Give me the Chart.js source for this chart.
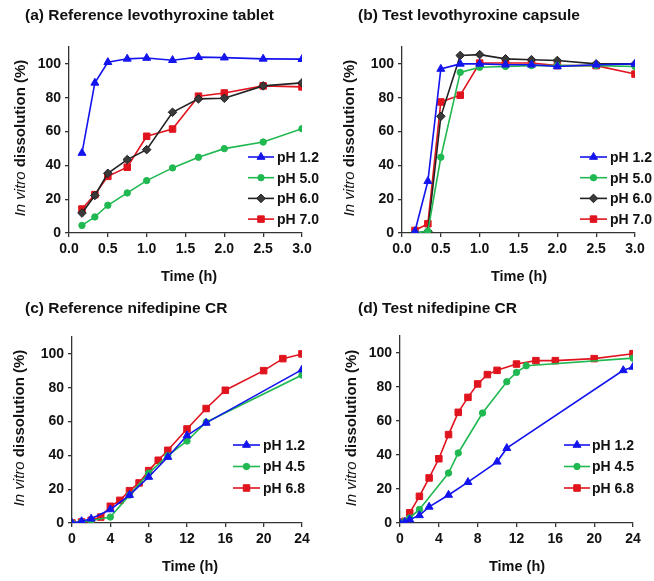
<!DOCTYPE html>
<html><head><meta charset="utf-8">
<script src="https://cdn.jsdelivr.net/npm/chart.js@4.4.0/dist/chart.umd.min.js"></script>
<style>
html,body{margin:0;padding:0;background:#fff;width:654px;height:581px;overflow:hidden;}
canvas{position:absolute;}
</style></head><body>
<canvas id="ca" width="327" height="290" style="left:0;top:0;width:327px;height:290px"></canvas>
<canvas id="cb" width="327" height="290" style="left:327px;top:0;width:327px;height:290px"></canvas>
<canvas id="cc" width="327" height="291" style="left:0;top:290px;width:327px;height:291px"></canvas>
<canvas id="cd" width="327" height="291" style="left:327px;top:290px;width:327px;height:291px"></canvas>
<script>
// ---------- data ----------
const levoTime = [0.167, 0.333, 0.5, 0.75, 1.0, 1.333, 1.667, 2.0, 2.5, 3.0];
const refLevo_pH12 = [47.3, 88.8, 101, 103, 103.5, 102.2, 104, 103.7, 103, 102.8];
const refLevo_pH50 = [4.5, 9.5, 16.4, 23.7, 31, 38.5, 44.8, 49.9, 53.8, 61.7];
const refLevo_pH60 = [11.8, 22.2, 35.3, 43.4, 49.3, 71.4, 79.3, 79.7, 87, 88.8];
const refLevo_pH70 = [14.2, 22.7, 33.5, 38.9, 57.2, 61.5, 80.9, 82.8, 87, 86.4];

const testLevo_pH12 = [1, 30.6, 97, 100, 100, 99.5, 99.5, 98.5, 99.5, 100];
const testLevo_pH50 = [0, 1, 44.8, 95, 98, 98.5, 99, 99, 99, 98.5];
const testLevo_pH60 = [0, 1, 69, 105, 105.5, 103, 102.5, 102, 100, 100];
const testLevo_pH70 = [1.5, 5.5, 77.5, 81.5, 100.5, 100.5, 100.5, 99, 99, 94];

const refNif_time_pH12 = [0, 1, 2, 4, 6, 8, 10, 12, 14, 24];
const refNif_pH12 = [0, 1, 2.5, 8, 16.5, 27.2, 39, 51.7, 59.2, 90.7];
const refNif_time_pH45 = [0, 1, 2, 4, 6, 8, 10, 12, 14, 24];
const refNif_pH45 = [0, 0.5, 1.5, 3.5, 16.5, 29.5, 39.8, 48.5, 59.6, 87.5];
const refNif_time_pH68 = [0, 1, 2, 3, 4, 5, 6, 7, 8, 9, 10, 12, 14, 16, 20, 22, 24];
const refNif_pH68 = [0, 0.6, 1.6, 3.5, 9.9, 13.4, 19.1, 23.7, 31, 37.1, 43, 55.6, 67.7, 78.5, 90.1, 97.2, 100];

const testNif_time_pH12 = [0, 0.5, 1, 2, 3, 5, 7, 10, 11, 23, 24];
const testNif_pH12 = [0, 0.5, 2, 4.5, 9.5, 16.5, 24, 36, 44, 89.8, 91.8];
const testNif_time_pH45 = [0, 0.5, 1, 2, 5, 6, 8.5, 11, 12, 13, 24];
const testNif_pH45 = [0, 1, 3, 8, 29.4, 41.2, 64.7, 83.1, 88.6, 92.5, 97];
const testNif_time_pH68 = [0, 0.5, 1, 2, 3, 4, 5, 6, 7, 8, 9, 10, 12, 14, 16, 20, 24];
const testNif_pH68 = [0, 1, 6, 15.7, 26.5, 37.8, 52, 65.1, 73.9, 81.8, 87.3, 89.8, 93.5, 95.5, 95.5, 96.7, 99.6];

const levoTicksX = [0, 0.5, 1.0, 1.5, 2.0, 2.5, 3.0];
const nifTicksX = [0, 4, 8, 12, 16, 20, 24];
const dissTicksY = [0, 20, 40, 60, 80, 100];

const levoLabels = ['pH 1.2', 'pH 5.0', 'pH 6.0', 'pH 7.0'];
const nifLabels = ['pH 1.2', 'pH 4.5', 'pH 6.8'];

// ---------- styles ----------
const FONT = "'Liberation Sans', Arial, Helvetica, sans-serif";
const TXT = '#111111';
const AX = '#333333';
const STY = {
  blue:  {color: '#1414ee', fill: '#1414ee', point: 'triangle', r: 4.6},
  green: {color: '#20b850', fill: '#20b850', point: 'circle', r: 3.2},
  black: {color: '#222222', fill: '#3a3a3a', point: 'rectRot', r: 4.3},
  red:   {color: '#e0141e', fill: '#e0141e', point: 'rect', r: 4.6}
};

function pts(xs, ys) { return xs.map((x, i) => ({x: x, y: ys[i]})); }

function ds(label, xs, ys, st) {
  return {
    label: label, data: pts(xs, ys),
    borderColor: st.color, backgroundColor: st.fill,
    borderWidth: 1.6, pointStyle: st.point, pointRadius: st.r,
    pointBackgroundColor: st.fill, pointBorderColor: st.color, pointBorderWidth: 1,
    tension: 0, fill: false, _st: st
  };
}

function drawMarker(ctx, st, x, y) {
  const r = st.r;
  ctx.save();
  ctx.fillStyle = st.fill; ctx.strokeStyle = st.color; ctx.lineWidth = 1;
  ctx.beginPath();
  if (st.point === 'circle') {
    ctx.arc(x, y, r, 0, Math.PI * 2);
  } else if (st.point === 'triangle') {
    const w = r * Math.sin(2 * Math.PI / 3);
    ctx.moveTo(x, y - r);
    ctx.lineTo(x + w, y + r / 2);
    ctx.lineTo(x - w, y + r / 2);
    ctx.closePath();
  } else if (st.point === 'rectRot') {
    ctx.moveTo(x - r, y); ctx.lineTo(x, y - r); ctx.lineTo(x + r, y); ctx.lineTo(x, y + r); ctx.closePath();
  } else {
    const s = r * Math.SQRT1_2;
    ctx.rect(x - s, y - s, 2 * s, 2 * s);
  }
  ctx.fill(); ctx.stroke();
  ctx.restore();
}

function makeChart(id, cfg) {
  const cv = document.getElementById(id);
  const W = cv.width, H = cv.height, A = cfg.area;
  const tickFont = {family: FONT, size: 14, weight: 'bold'};
  const deco = {
    id: 'deco' + id,
    afterDraw(chart) {
      const ctx = chart.ctx;
      ctx.save();
      ctx.fillStyle = TXT;
      // panel title
      ctx.font = 'bold 15.5px ' + FONT;
      ctx.textAlign = 'left'; ctx.textBaseline = 'middle';
      ctx.fillText(cfg.title.text, cfg.title.x, cfg.title.y);
      // x title
      ctx.font = 'bold 14.5px ' + FONT;
      ctx.textAlign = 'center';
      ctx.fillText('Time (h)', cfg.xTitle.x, cfg.xTitle.y);
      // y title
      ctx.save();
      ctx.translate(cfg.yTitle.x, cfg.yTitle.y);
      ctx.rotate(-Math.PI / 2);
      const f1 = 'italic 15px ' + FONT, f2 = 'bold 15px ' + FONT;
      const t1 = 'In vitro ', t2 = 'dissolution (%)';
      ctx.font = f1; const w1 = ctx.measureText(t1).width;
      ctx.font = f2; const w2 = ctx.measureText(t2).width;
      ctx.textAlign = 'left';
      let sx = -(w1 + w2) / 2;
      ctx.font = f1; ctx.fillText(t1, sx, 0);
      ctx.font = f2; ctx.fillText(t2, sx + w1, 0);
      ctx.restore();
      // legend
      const L = cfg.legend;
      chart.data.datasets.forEach((d, i) => {
        const y = L.y0 + i * L.dy;
        ctx.strokeStyle = d.borderColor; ctx.lineWidth = 1.6;
        ctx.beginPath(); ctx.moveTo(L.x0, y); ctx.lineTo(L.x1, y); ctx.stroke();
        drawMarker(ctx, d._st, (L.x0 + L.x1) / 2, y);
        ctx.fillStyle = TXT;
        ctx.font = 'bold 14px ' + FONT;
        ctx.textAlign = 'left'; ctx.textBaseline = 'middle';
        ctx.fillText(d.label, L.tx, y + 1);
      });
      ctx.restore();
    }
  };
  return new Chart(cv, {
    type: 'line',
    data: {datasets: cfg.datasets},
    options: {
      responsive: false, animation: false, devicePixelRatio: 1,
      layout: {padding: {left: 0, top: A.top, right: W - A.right, bottom: 0}},
      plugins: {legend: {display: false}, title: {display: false}, tooltip: {enabled: false}},
      scales: {
        x: {
          type: 'linear', min: 0, max: cfg.xMax, bounds: 'data',
          afterBuildTicks: s => { s.ticks = cfg.xTicks.map(v => ({value: v})); },
          afterFit: s => { s.height = H - A.bottom; },
          grid: {display: true, drawOnChartArea: false, drawTicks: true, tickLength: 4, color: AX, lineWidth: 1.3},
          border: {display: true, color: AX, width: 1.3},
          ticks: {font: tickFont, color: TXT, padding: 4, maxRotation: 0, autoSkip: false,
                  callback: v => cfg.xFmt(v)}
        },
        y: {
          type: 'linear', min: 0, max: 110, bounds: 'data',
          afterBuildTicks: s => { s.ticks = dissTicksY.map(v => ({value: v})); },
          afterFit: s => { s.width = A.left; },
          grid: {display: true, drawOnChartArea: false, drawTicks: true, tickLength: 4, color: AX, lineWidth: 1.3},
          border: {display: true, color: AX, width: 1.3},
          ticks: {font: tickFont, color: TXT, padding: 4, callback: v => String(v)}
        }
      }
    },
    plugins: [deco]
  });
}

const fmt1 = v => Number(v).toFixed(1);
const fmt0 = v => String(v);

makeChart('ca', {
  datasets: [
    ds(levoLabels[0], levoTime, refLevo_pH12, STY.blue),
    ds(levoLabels[1], levoTime, refLevo_pH50, STY.green),
    ds(levoLabels[2], levoTime, refLevo_pH60, STY.black),
    ds(levoLabels[3], levoTime, refLevo_pH70, STY.red)
  ],
  xMax: 3, xTicks: levoTicksX, xFmt: fmt1,
  area: {left: 69, right: 302, top: 47, bottom: 233},
  title: {text: '(a) Reference levothyroxine tablet', x: 25, y: 16},
  xTitle: {x: 189, y: 277}, yTitle: {x: 21, y: 138},
  legend: {x0: 248, x1: 274, tx: 277, y0: 157, dy: 20.7}
});

makeChart('cb', {
  datasets: [
    ds(levoLabels[0], levoTime, testLevo_pH12, STY.blue),
    ds(levoLabels[1], levoTime, testLevo_pH50, STY.green),
    ds(levoLabels[2], levoTime, testLevo_pH60, STY.black),
    ds(levoLabels[3], levoTime, testLevo_pH70, STY.red)
  ],
  xMax: 3, xTicks: levoTicksX, xFmt: fmt1,
  area: {left: 75, right: 308, top: 47, bottom: 233},
  title: {text: '(b) Test levothyroxine capsule', x: 31, y: 16},
  xTitle: {x: 192, y: 277}, yTitle: {x: 23, y: 138},
  legend: {x0: 253, x1: 280, tx: 283, y0: 157, dy: 20.7}
});

makeChart('cc', {
  datasets: [
    ds(nifLabels[0], refNif_time_pH12, refNif_pH12, STY.blue),
    ds(nifLabels[1], refNif_time_pH45, refNif_pH45, STY.green),
    ds(nifLabels[2], refNif_time_pH68, refNif_pH68, STY.red)
  ],
  xMax: 24, xTicks: nifTicksX, xFmt: fmt0,
  area: {left: 72, right: 302, top: 47, bottom: 233},
  title: {text: '(c) Reference nifedipine CR', x: 25, y: 18.5},
  xTitle: {x: 190, y: 277}, yTitle: {x: 20, y: 138},
  legend: {x0: 233, x1: 260, tx: 263, y0: 155, dy: 21.5}
});

makeChart('cd', {
  datasets: [
    ds(nifLabels[0], testNif_time_pH12, testNif_pH12, STY.blue),
    ds(nifLabels[1], testNif_time_pH45, testNif_pH45, STY.green),
    ds(nifLabels[2], testNif_time_pH68, testNif_pH68, STY.red)
  ],
  xMax: 24, xTicks: nifTicksX, xFmt: fmt0,
  area: {left: 73, right: 306, top: 46, bottom: 233},
  title: {text: '(d) Test nifedipine CR', x: 31, y: 18.5},
  xTitle: {x: 190, y: 277}, yTitle: {x: 25, y: 138},
  legend: {x0: 237, x1: 263, tx: 265, y0: 155, dy: 21.5}
});
</script>
</body></html>
